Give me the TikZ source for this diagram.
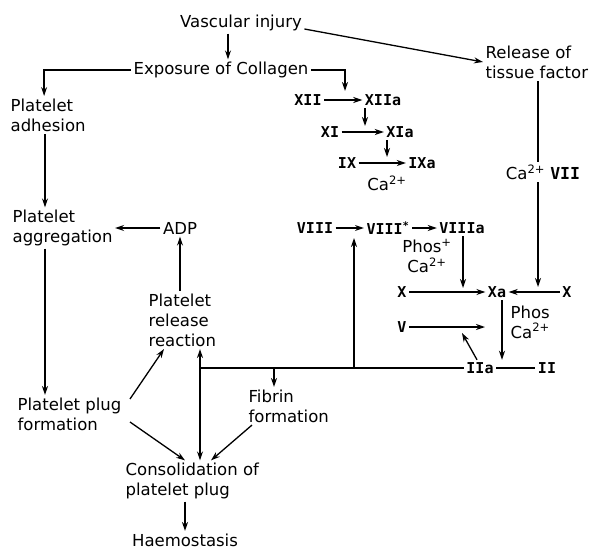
\documentclass[tikz,border=0pt]{standalone}
\usepackage{fontspec}
\setmainfont{DejaVu Sans}
\newfontfamily\romfont{DejaVu Sans Mono Bold}
\usetikzlibrary{arrows.meta}

\begin{document}
\begin{tikzpicture}[x=1pt, y=-1pt, line width=1.3pt,
    >={Stealth[length=9pt,width=6pt]},
    every node/.style={font=\fontsize{16.5}{20}\selectfont, inner sep=2pt},
    txt/.style={align=left, anchor=west},
    fac/.style={font=\romfont\fontsize{15}{18}\selectfont}]
  \useasboundingbox (0,0) rectangle (600,549);

  % platelet side
  \node (inj) at (241,23) {Vascular injury};
  \node (coll) at (221,70) {Exposure of Collagen};
  \node[txt] (tf) at (483,62) {Release of\\tissue factor};
  \node[txt] (adh) at (8,115) {Platelet\\adhesion};
  \node[txt] (agg) at (10,228) {Platelet\\aggregation};
  \node (adp) at (180,228) {ADP};
  \node[txt] (rel) at (146,320) {Platelet\\release\\reaction};
  \node[txt] (plug) at (15,414) {Platelet plug\\formation};
  \node[txt] (cons) at (123,481) {Consolidation of\\platelet plug};
  \node (haem) at (185,540) {Haemostasis};
  \node[txt] (fib) at (246,406) {Fibrin\\formation};

  % clotting factors
  \node[fac] (xii) at (308,100) {XII};
  \node[fac] (xiia) at (383,100) {XIIa};
  \node[fac] (xi) at (330,132) {XI};
  \node[fac] (xia) at (400,132) {XIa};
  \node[fac] (ix) at (347,163) {IX};
  \node[fac] (ixa) at (422,163) {IXa};
  \node (ca1) at (387,183) {Ca\textsuperscript{2+}};
  \node (ca7) at (543,172) {Ca\textsuperscript{2+} {\romfont VII}};
  \node[fac] (viii) at (315,228) {VIII};
  \node[fac] (viiis) at (388,228) {VIII\textsuperscript{*}};
  \node[fac] (viiia) at (462,228) {VIIIa};
  \node[align=center] (phos1) at (427,256) {Phos\textsuperscript{+}\\Ca\textsuperscript{2+}};
  \node[fac] (xl) at (402,292) {X};
  \node[fac] (xa) at (497,292) {Xa};
  \node[fac] (xr) at (567,292) {X};
  \node[txt] (phos2) at (508,322) {Phos\\Ca\textsuperscript{2+}};
  \node[fac] (v) at (402,327) {V};
  \node[fac] (iia) at (480,368) {IIa};
  \node[fac] (ii) at (547,368) {II};

  % junctions
  \coordinate (k1) at (345,91);
  \coordinate (k2) at (365,126);
  \coordinate (k3) at (387,157);
  \coordinate (k5) at (354,238);
  \coordinate (k6) at (463,288);
  \coordinate (k7) at (538,287);
  \coordinate (k8) at (485,327);
  \coordinate (k9) at (462,333);
  \coordinate (h0) at (200,368);
  \coordinate (h1) at (354,368);
  \coordinate (h2) at (274,368);
  \coordinate (lx) at (45,0);
  \coordinate (vx) at (200,0);
  \coordinate (tx) at (538,0);
  \coordinate (dx) at (502,0);

  \draw[->] ([xshift=-13pt]inj.south) -- ([xshift=-13pt]inj.south |- coll.north);
  \draw[->] ([yshift=-6pt]inj.east) -- (tf.west);
  \draw[->] (coll.west) -| ([xshift=-4pt]adh.north);
  \draw[->] (coll.east) -| (k1);
  \draw[->] (xii) -- (xiia);
  \draw[->] (xiia.south -| k2) -- (k2);
  \draw[->] (xi) -- (xia);
  \draw[->] (xia.south -| k3) -- (k3);
  \draw[->] (ix) -- (ixa);
  \draw (tf.south -| tx) -- (ca7.north -| tx);
  \draw[->] (ca7.south -| tx) -- (k7);
  \draw[->] (xr) -- (xa);
  \draw[->] (xl) -- (xa);
  \draw[->] (viii) -- (viiis);
  \draw[->] (viiis) -- (viiia);
  \draw[->] (viiia.south -| k6) -- (k6);
  \draw[->] (xa.south -| dx) -- (iia.north -| dx);
  \draw[->] (v) -- (k8);
  \draw[->] ([xshift=-3pt]iia.north) -- (k9);
  \draw (iia) -- (ii);
  \draw (h0) -- (iia.west);
  \draw[->] (h1) -- (k5);
  \draw[->] (h2) -- (h2 |- fib.north);
  \draw[<->] (rel.south -| vx) -- (cons.north -| vx);
  \draw[->] (rel.north -| adp) -- (adp.south);
  \draw[->] (adp) -- (agg);
  \draw[->] (adh.south -| lx) -- (agg.north -| lx);
  \draw[->] (agg.south -| lx) -- (plug.north -| lx);
  \draw[->] ([xshift=6pt,yshift=-4pt]plug.north east) -- ([xshift=18pt]rel.south west);
  \draw[->] ([xshift=6pt,yshift=-8pt]plug.east) -- ([xshift=62pt]cons.north west);
  \draw[->] ([xshift=6pt]fib.south west) -- ([xshift=88pt]cons.north west);
  \draw[->] (cons.south -| haem) -- (haem.north);
\end{tikzpicture}
\end{document}
